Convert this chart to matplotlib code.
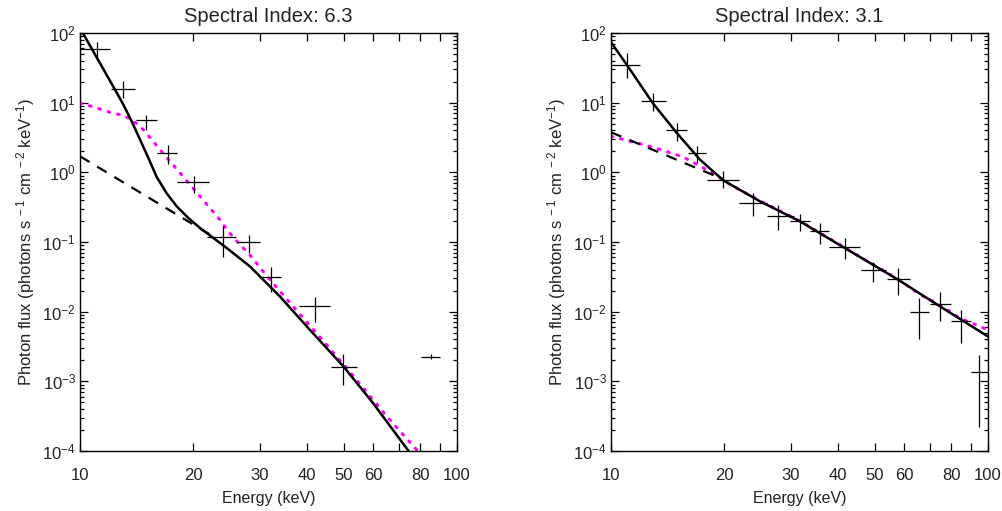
import numpy as np
import matplotlib
matplotlib.use("Agg")
import matplotlib.pyplot as plt
from matplotlib.ticker import FixedLocator, LogLocator, NullFormatter, FuncFormatter

plt.rcParams['font.family'] = ['Liberation Sans', 'DejaVu Sans']
plt.rcParams['mathtext.fontset'] = 'custom'
plt.rcParams['mathtext.rm'] = 'Liberation Sans'
plt.rcParams['mathtext.it'] = 'Liberation Sans:italic'

titles = ["Spectral Index: 6.3", "Spectral Index: 3.1"]

# ---- Left panel data ----
L_E = [11.07, 13.03, 14.94, 17.09, 20.1, 24.0, 28.1, 32.05, 42.0, 49.9, 85.1]
L_Elo = [10.0, 12.08, 14.07, 15.97, 18.05, 21.7, 26.1, 30.0, 38.2, 46.2, 80.5]
L_Ehi = [12.01, 13.99, 16.03, 18.05, 22.03, 26.0, 30.0, 34.1, 46.0, 54.2, 90.2]
L_F = [58.0, 15.9, 5.58, 1.90, 0.718, 0.1165, 0.0987, 0.0314, 0.0119, 0.00163, 0.00227]
L_Flo = [40.6, 11.5, 4.11, 1.33, 0.506, 0.0609, 0.0695, 0.0189, 0.0070, 0.00089, 0.00210]
L_Fhi = [73.8, 20.3, 6.75, 2.50, 0.876, 0.171, 0.126, 0.0438, 0.0165, 0.00248, 0.00245]

L_tot_E = [10.0, 11.2, 12.38, 13.03, 13.71, 14.43, 15.18, 15.97, 16.98, 18.05, 19.38, 20.81, 22.58, 24.5,
           28.24, 30.0, 33.9, 40.7, 50.0, 59.9, 74.0, 76.0]
L_tot_F = [118, 40.0, 15.43, 9.39, 5.40, 2.95, 1.61, 0.86, 0.50, 0.325, 0.221, 0.159, 0.1142, 0.0820,
           0.0446, 0.0321, 0.01654, 0.0055, 0.00163, 0.000486, 1.04e-4, 8.6e-5]

L_th_E = [10.0, 11.07, 12.01, 13.03, 13.71, 14.58, 15.5, 16.3, 17.33, 18.42, 19.58, 20.81, 22.12, 23.5,
          24.74, 26.3, 27.95, 31.9, 42.0, 51.0, 65.2, 78.2, 79.5]
L_th_F = [9.9, 8.42, 7.28, 6.53, 5.72, 4.34, 2.95, 2.12, 1.44, 0.980, 0.666, 0.452, 0.308, 0.209,
          0.142, 0.0967, 0.0695, 0.0287, 0.0052, 0.00155, 0.000312, 1.04e-4, 8.5e-5]

L_nt_E = [10.0, 22.5]
L_nt_F = [1.70, 0.121]

# ---- Right panel data ----
R_E = [11.0, 12.9, 14.94, 16.87, 19.86, 23.8, 27.8, 31.7, 35.8, 41.7, 49.6, 57.7, 65.7, 74.6, 84.8, 94.8]
R_Elo = [10.0, 11.99, 13.99, 15.96, 17.94, 21.9, 25.9, 29.8, 33.8, 37.9, 45.9, 53.8, 62.0, 70.0, 79.7, 90.0]
R_Ehi = [11.94, 13.99, 15.94, 17.86, 21.9, 25.9, 30.5, 33.8, 37.8, 45.8, 53.6, 62.0, 69.9, 79.7, 90.0, 100.0]
R_F = [35.3, 10.5, 4.11, 1.90, 0.767, 0.363, 0.233, 0.198, 0.142, 0.0847, 0.040, 0.0297, 0.00986, 0.0130, 0.00723, 0.00134]
R_Flo = [22.7, 7.52, 2.79, 1.36, 0.597, 0.233, 0.150, 0.142, 0.0935, 0.0575, 0.0266, 0.0171, 0.00408, 0.0074, 0.0036, 0.000224]
R_Fhi = [51.9, 13.8, 5.13, 2.42, 1.03, 0.506, 0.344, 0.255, 0.1875, 0.114, 0.0516, 0.0423, 0.0157, 0.0189, 0.0104, 0.0024]

R_tot_E = [10.0, 11.0, 12.9, 14.94, 17.22, 19.86, 24.85, 31.7, 41.7, 57.8, 74.6, 100.0]
R_tot_F = [73.8, 35.3, 9.9, 3.68, 1.52, 0.767, 0.383, 0.198, 0.082, 0.0287, 0.0119, 0.0044]

R_th_E = [10.0, 12.95, 15.55, 17.94, 21.1, 24.85, 31.7, 41.7, 57.8, 66.1, 74.6, 84.1, 100.0]
R_th_F = [3.29, 2.29, 1.66, 1.09, 0.63, 0.39, 0.20, 0.083, 0.029, 0.0175, 0.0125, 0.0081, 0.0055]

R_nt_E = [10.0, 19.8]
R_nt_F = [3.76, 0.80]

xticks = [10, 20, 30, 40, 50, 60, 80, 100]
xminor = [70, 90]
yticks = [1e-4, 1e-3, 1e-2, 1e-1, 1e0, 1e1, 1e2]

fig = plt.figure(figsize=(10.02, 5.11), dpi=100)
ax_l = fig.add_axes([80/1002, 60/511, 377/1002, 418/511])
ax_r = fig.add_axes([611/1002, 60/511, 377/1002, 418/511])

panels = [
    (ax_l, L_E, L_Elo, L_Ehi, L_F, L_Flo, L_Fhi, L_tot_E, L_tot_F, L_th_E, L_th_F, L_nt_E, L_nt_F),
    (ax_r, R_E, R_Elo, R_Ehi, R_F, R_Flo, R_Fhi, R_tot_E, R_tot_F, R_th_E, R_th_F, R_nt_E, R_nt_F),
]

def yfmt(v, pos):
    e = int(round(np.log10(v)))
    return r"$10^{%d}$" % e

txt = '#222222'
for i, (ax, E, Elo, Ehi, F, Flo, Fhi, tE, tF, thE, thF, nE, nF) in enumerate(panels):
    ax.set_xscale('log')
    ax.set_yscale('log')
    ax.set_xlim(10, 100)
    ax.set_ylim(1e-4, 1e2)
    E = np.array(E); F = np.array(F)
    xerr = [E - np.array(Elo), np.array(Ehi) - E]
    yerr = [F - np.array(Flo), np.array(Fhi) - F]
    ax.errorbar(E, F, xerr=xerr, yerr=yerr, fmt='none', ecolor='black', elinewidth=0.9, capsize=0, zorder=4)
    ax.plot(thE, thF, color='#ff00ff', lw=2.2, linestyle=(0, (0.6, 2.6)), dash_capstyle='round', zorder=2)
    ax.plot(nE, nF, color='black', lw=1.6, linestyle=(0, (5, 4)), zorder=3)
    ax.plot(tE, tF, color='black', lw=1.8, zorder=3)
    ax.set_title(titles[i], fontsize=14.5, pad=8, color=txt)
    ax.set_xlabel("Energy (keV)", fontsize=11.5, labelpad=6, color=txt)
    ax.set_ylabel(r"Photon flux (photons s$^{\ -1}$ cm$^{\ -2}$ keV$^{-1}$)", fontsize=12, labelpad=4, color=txt)
    ax.xaxis.set_major_locator(FixedLocator(xticks))
    ax.xaxis.set_minor_locator(FixedLocator(xminor))
    ax.xaxis.set_major_formatter(FuncFormatter(lambda v, p: "%d" % v))
    ax.xaxis.set_minor_formatter(NullFormatter())
    ax.yaxis.set_major_locator(FixedLocator(yticks))
    ax.yaxis.set_minor_locator(LogLocator(base=10, subs=np.arange(2, 10), numticks=20))
    ax.yaxis.set_major_formatter(FuncFormatter(yfmt))
    ax.yaxis.set_minor_formatter(NullFormatter())
    ax.tick_params(which='both', direction='in', top=True, right=True, labelsize=12, width=0.9, labelcolor=txt)
    ax.tick_params(axis='x', which='major', length=6, pad=12)
    ax.tick_params(axis='x', which='minor', length=6)
    ax.tick_params(axis='y', which='major', length=6, pad=3)
    ax.tick_params(axis='y', which='minor', length=3)
    for s in ax.spines.values():
        s.set_linewidth(1.0)

fig.savefig("out.png", dpi=100, facecolor='white')
